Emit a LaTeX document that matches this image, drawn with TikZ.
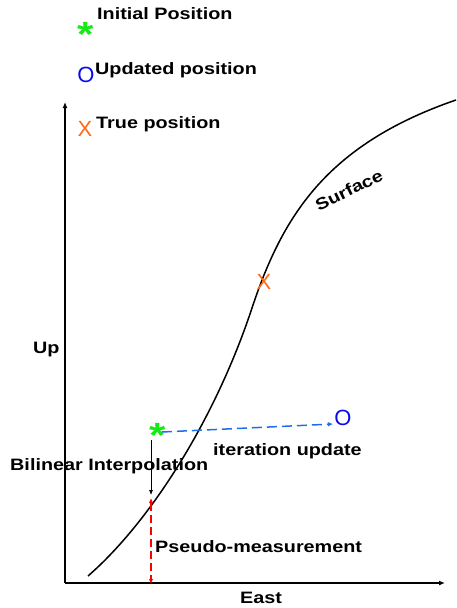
\documentclass[tikz,border=0pt]{standalone}
\usepackage{fontspec}
\setmainfont{Liberation Sans}[FakeStretch=1.2]
\newfontfamily\markfont{Liberation Sans}
\usetikzlibrary{arrows.meta}

\definecolor{stargreen}{RGB}{20,235,20}
\definecolor{updblue}{RGB}{10,10,240}
\definecolor{iterblue}{RGB}{30,110,235}
\definecolor{trueorange}{RGB}{255,105,20}

\tikzset{
  lbl/.style={font=\fontsize{16.5}{18}\selectfont\bfseries, inner sep=0pt, anchor=base west},
  starmark/.style={font=\fontsize{35}{36}\selectfont\bfseries, text=stargreen, inner sep=0pt, anchor=north},
  letmark/.style={font=\markfont\fontsize{22}{24}\selectfont, inner sep=0pt},
}

\begin{document}
\begin{tikzpicture}[x=1pt, y=-1pt, >={Latex[length=6pt,width=5pt]}]
  \useasboundingbox (0,0) rectangle (456,608);

  % Legend (markers at left, texts raised)
  \node[starmark] (leginit) at (85.5,22) {*};
  \node[lbl] (leginittxt) at (97,19) {Initial Position};
  \node[letmark, text=updblue] (legupd) at (86,75) {O};
  \node[lbl] (legupdtxt) at (95,74) {Updated position};
  \node[letmark, text=trueorange] (legtrue) at (85,129) {X};
  \node[lbl] (legtruetxt) at (96,128) {True position};

  % Axes
  \coordinate (origin) at (65,583);
  \coordinate (uptip) at (65,102);
  \coordinate (easttip) at (445,583);
  \draw[line width=1.6pt, ->] (origin) -- (uptip);
  \draw[line width=1.6pt, ->] (origin) -- (easttip);
  \node[lbl] (uplbl) at (33,353) {Up};
  \node[lbl] (eastlbl) at (240,603) {East};

  % Surface
  \draw[line width=1.5pt] (88,576) .. controls (150,522) and (215,420) .. (252,308)
    .. controls (282,218) and (325,145) .. (456,100);
  \node[lbl, rotate=26, anchor=center] (surflbl) at (349,190) {Surface};

  % Positions
  \node[letmark, text=trueorange] (truepos) at (264,282) {X};
  \node[starmark] (initpos) at (157.5,423) {*};
  \node[letmark, text=updblue] (updpos) at (343,418) {O};

  % Iteration update
  \draw[iterblue, line width=1.5pt, dash pattern=on 10pt off 5pt,
        -{Latex[length=5pt,width=4.5pt]}]
    ([shift={(4.5,9)}]initpos.north) -- ([shift={(-10,6)}]updpos.center);
  \node[lbl] (iterlbl) at (213,455) {iteration update};

  % Interpolation down to the surface, then measurement to the east axis
  \coordinate (interptop) at (151,440);
  \coordinate (surfpt) at (151,497);
  \coordinate (eastpt) at (151,584);
  \draw[->, line width=0.7pt, shorten >=2pt, >={Latex[length=5pt,width=4pt]}] (interptop) -- (surfpt);
  \node[lbl] (interplbl) at (10,470) {Bilinear Interpolation};
  \draw[<->, red, line width=1.3pt, dash pattern=on 8pt off 4pt, shorten <=1pt,
        >={Latex[length=5pt,width=4.5pt]}] (surfpt) -- (eastpt);
  \node[lbl] (pseudolbl) at (155,552) {Pseudo-measurement};
\end{tikzpicture}
\end{document}
